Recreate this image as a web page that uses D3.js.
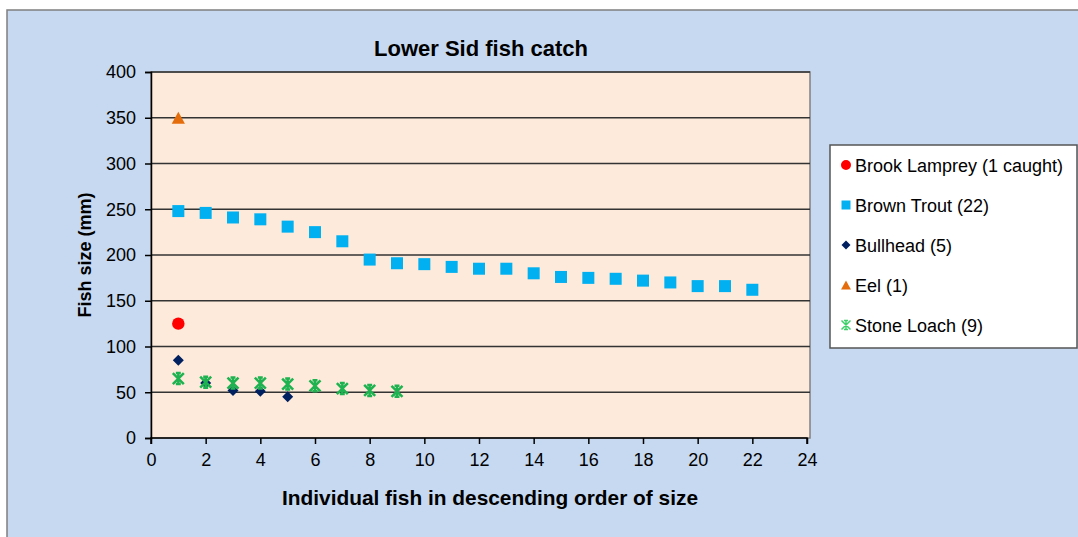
<!DOCTYPE html>
<html>
<head>
<meta charset="utf-8">
<script src="https://cdnjs.cloudflare.com/ajax/libs/d3/7.8.5/d3.min.js"></script>
<style>
  body { margin: 0; background: #fff; }
  svg text { font-family: "Liberation Sans", Arial, sans-serif; fill: #000; }
</style>
</head>
<body>
<svg id="chart" width="1078" height="537"></svg>
<script>
// values (mm)
const lamprey = [125];
const trout = [248, 246, 241, 239, 231, 225, 215, 195, 191, 190, 187, 185, 185, 180, 176, 175, 174, 172, 170, 166, 166, 162];
const bullhead = [85, 60, 52, 51, 45];
const eel = [350];
const loach = [65, 61, 60, 60, 59, 57, 54, 52, 51];

const seriesNames = ['Brook Lamprey (1 caught)', 'Brown Trout (22)', 'Bullhead (5)', 'Eel (1)', 'Stone Loach (9)'];
const xTicks = d3.range(0, 25, 2);
const yTicks = d3.range(0, 401, 50);

const svg = d3.select("#chart");

// outer chart area
svg.append("rect")
  .attr("x", 7).attr("y", 10)
  .attr("width", 1100).attr("height", 600)
  .attr("fill", "#c6d9f0")
  .attr("stroke", "#7f7f7f")
  .attr("stroke-width", 1.5);

const margin = {left: 151, top: 72, right: 807, bottom: 438};

let x = d3.scaleLinear().domain([0, 24]).range([margin.left, margin.right]);
let y = d3.scaleLinear().domain([0, 400]).range([margin.bottom, margin.top]);

// plot area
svg.append("rect")
  .attr("x", margin.left).attr("y", margin.top)
  .attr("width", 810 - margin.left).attr("height", margin.bottom - margin.top)
  .attr("fill", "#fdeada")
  .attr("stroke", "#808080")
  .attr("stroke-width", 1.5);

// gridlines
svg.append("g").selectAll("line")
  .data(yTicks.filter(d => d > 0))
  .join("line")
    .attr("x1", margin.left).attr("x2", 810)
    .attr("y1", d => y(d)).attr("y2", d => y(d))
    .attr("stroke", "#333")
    .attr("stroke-width", 1.5);

// axes
const yAxis = svg.append("g")
  .attr("transform", `translate(${margin.left},0)`)
  .call(d3.axisLeft(y).tickValues(yTicks).tickSize(6).tickPadding(9));

const xAxis = svg.append("g")
  .attr("transform", `translate(0,${margin.bottom})`)
  .call(d3.axisBottom(x).tickValues(xTicks).tickSize(6).tickPadding(9));

[xAxis, yAxis].forEach(function(a){
  a.select(".domain").attr("stroke", "#000").attr("stroke-width", 1.5);
  a.selectAll(".tick line").attr("stroke", "#000").attr("stroke-width", 1.5);
  a.selectAll("text")
    .style("font-size", "18px")
    .style("font-family", "'Liberation Sans', Arial, sans-serif")
    .attr("fill", "#1a1a1a");
});
xAxis.select(".domain").attr("d", `M${margin.left},6V0H${margin.right}V6`);

// titles
svg.append("text")
  .attr("x", 481).attr("y", 56)
  .attr("text-anchor", "middle")
  .style("font-size", "22px").style("font-weight", "bold")
  .text("Lower Sid fish catch");

svg.append("text")
  .attr("transform", "translate(91,255) rotate(-90)")
  .attr("text-anchor", "middle")
  .style("font-size", "18px").style("font-weight", "bold")
  .text("Fish size (mm)");

svg.append("text")
  .attr("x", 490).attr("y", 505)
  .attr("text-anchor", "middle")
  .attr("textLength", 416)
  .attr("lengthAdjust", "spacingAndGlyphs")
  .style("font-size", "21px").style("font-weight", "bold")
  .text("Individual fish in descending order of size");

// marker helpers
function star(s) {
  const h = s / 2;
  return `M${-h},${-h}L${h},${h}M${h},${-h}L${-h},${h}M0,${-h}V${h}M${-h*0.45},${-h}H${h*0.45}M${-h*0.45},${h}H${h*0.45}`;
}
function tri(s) {
  const h = s / 2;
  return `M0,${-h}L${h * 1.1},${h}L${-h * 1.1},${h}Z`;
}
function diamond(s) {
  const h = s / 2;
  return `M0,${-h}L${h},0L0,${h}L${-h},0Z`;
}
function markPath(s, big) {
  const size = big ? s.size : s.lsize;
  if (s.kind === "star") return star(size);
  if (s.kind === "tri") return tri(size);
  if (s.kind === "diamond") return diamond(size);
  return d3.symbol().type(s.kind === "circle" ? d3.symbolCircle : d3.symbolSquare).size(size * size * (s.kind === "circle" ? 0.785 : 1))();
}

const series = [
  {name: seriesNames[0], values: lamprey, color: "#ff0000", kind: "circle", size: 12.5, lsize: 10},
  {name: seriesNames[1], values: trout, color: "#00b0f0", kind: "square", size: 12, lsize: 9},
  {name: seriesNames[2], values: bullhead, color: "#002060", kind: "diamond", size: 11, lsize: 9},
  {name: seriesNames[3], values: eel, color: "#e46c0a", kind: "tri", size: 12, lsize: 9},
  {name: seriesNames[4], values: loach, color: "#1fb250", kind: "star", size: 11, lsize: 9}
];

const marks = svg.append("g");
series.forEach(function(s){
  marks.append("g").selectAll("path")
    .data(s.values)
    .join("path")
      .attr("transform", (d, i) => `translate(${x(i + 1)},${y(d)})`)
      .attr("d", markPath(s, true))
      .attr("fill", s.kind === "star" ? "none" : s.color)
      .attr("stroke", s.kind === "star" ? s.color : "none")
      .attr("stroke-width", 2.5);
});

// legend
const legend = svg.append("g");
legend.append("rect")
  .attr("x", 830).attr("y", 145)
  .attr("width", 247).attr("height", 203)
  .attr("fill", "#fff")
  .attr("stroke", "#555")
  .attr("stroke-width", 1.5);

const items = legend.selectAll(".item")
  .data(series)
  .join("g")
    .attr("class", "item")
    .attr("transform", (d, i) => `translate(846,${165 + i * 40})`);

items.append("path")
  .attr("d", d => markPath(d, false))
  .attr("fill", d => d.kind === "star" ? "none" : d.color)
  .attr("stroke", d => d.kind === "star" ? "#3ccf6a" : "none")
  .attr("stroke-width", 1.5);

items.append("text")
  .attr("x", 9).attr("y", 6.5)
  .style("font-size", "18px")
  .attr("fill", "#1a1a1a")
  .text(d => d.name);
</script>
</body>
</html>
